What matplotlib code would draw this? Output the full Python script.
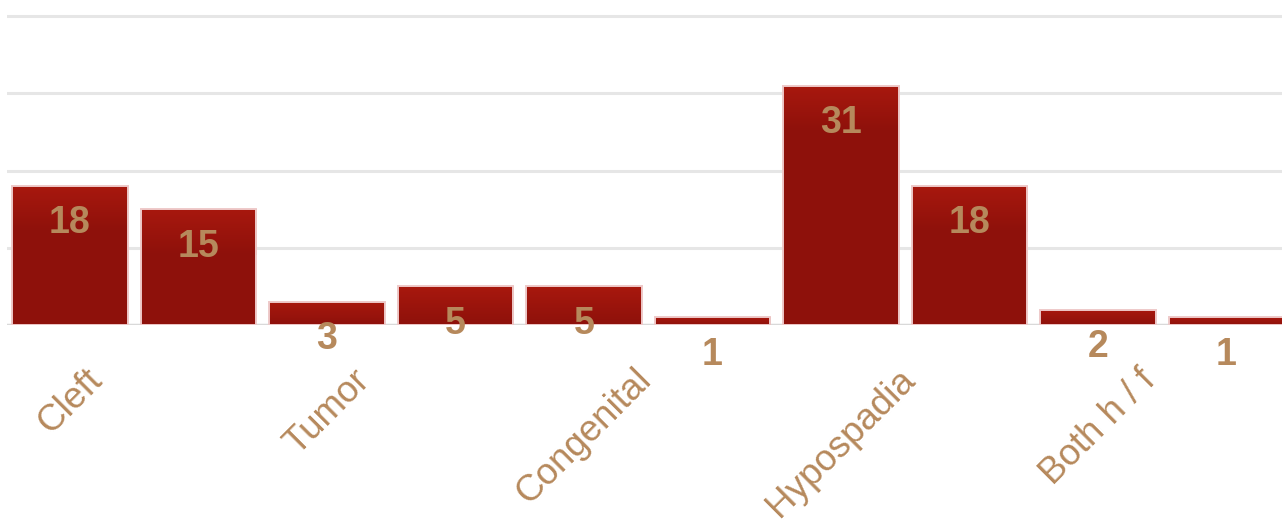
import matplotlib
matplotlib.use("Agg")
import matplotlib.pyplot as plt
import numpy as np
from matplotlib.colors import LinearSegmentedColormap

# ---- data ----
categories = ["Cleft", "", "Tumor", "", "Congenital", "", "Hypospadia", "", "Both h / f", ""]
values = [18, 15, 3, 5, 5, 1, 31, 18, 2, 1]
y_ticks = [0, 10, 20, 30, 40]

# ---- style ----
text_color = "#B6895C"
bar_color = "#8E110B"
bar_top_color = "#A8180E"
edge_color = "#EEC9C9"
grid_color = "#E6E6E6"

W, H = 1282, 527
fig = plt.figure(figsize=(W / 100, H / 100), dpi=100)
ax = fig.add_axes([7 / W, (H - 325) / H, 1 - 7 / W, 313.6 / H])

x = np.arange(len(values))
bars = ax.bar(x, values, width=0.9, color=bar_color, linewidth=0, zorder=3)

# gradient on top portion of each bar
cmap = LinearSegmentedColormap.from_list("g", [bar_top_color, bar_color])
grad = np.linspace(0, 1, 64).reshape(-1, 1)
for b in bars:
    x0, w, h = b.get_x(), b.get_width(), b.get_height()
    top = h
    bot = max(0, h - 6)
    im = ax.imshow(grad, cmap=cmap, aspect="auto",
                   extent=[x0, x0 + w, bot, top], origin="upper", zorder=3.5,
                   interpolation="bilinear")
    im.set_clip_path(b)

# outlines on top
ax.bar(x, values, width=0.9, facecolor="none", edgecolor=edge_color,
       linewidth=1.4, zorder=4)

# value labels
for xi, v in zip(x, values):
    ax.annotate(str(v), xy=(xi, v), xytext=(0, -27), textcoords="offset points",
                ha="center", va="center", fontsize=27, fontweight="bold",
                color=text_color, family=["Liberation Sans", "DejaVu Sans"],
                zorder=5, annotation_clip=False)

ax.set_xlim(-0.49, 9.432)
ax.set_ylim(0, 40.6)
ax.set_yticks(y_ticks)
ax.yaxis.grid(True, color=grid_color, linewidth=2.2, zorder=0)
ax.set_axisbelow(True)
ax.tick_params(axis="y", left=False, labelleft=False)
ax.axhline(0, color="#D9D9D9", linewidth=2.5, zorder=2)

ax.set_xticks(x)
ax.set_xticklabels(categories, rotation=45, ha="center", va="top",
                   fontsize=26.5, color=text_color,
                   family=["Liberation Sans", "DejaVu Sans"])
ax.tick_params(axis="x", length=0, pad=27)

for s in ax.spines.values():
    s.set_visible(False)

fig.savefig("out.png", dpi=100)
